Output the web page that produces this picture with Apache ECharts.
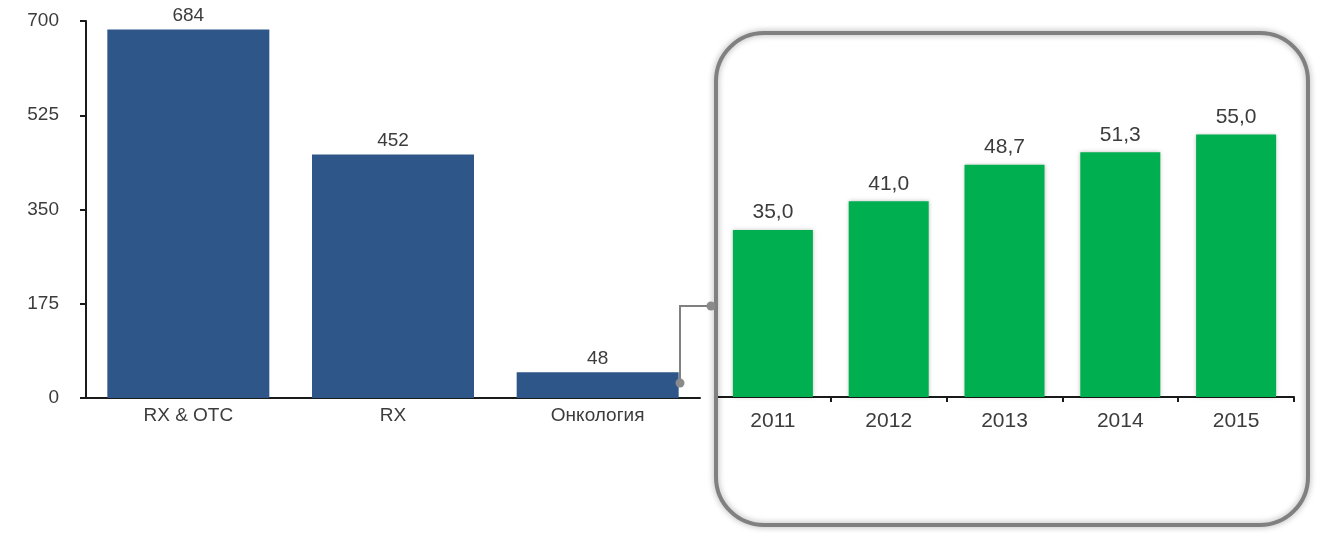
<!DOCTYPE html>
<html><head><meta charset="utf-8">
<script src="https://cdn.jsdelivr.net/npm/echarts@6/dist/echarts.min.js"></script>
<style>html,body{margin:0;padding:0;background:#fff}#c{width:1318px;height:533px}</style>
</head><body><div id="c"></div>
<script>
const leftCategories = ['RX & OTC', 'RX', 'Онкология'];
const leftValues = [684, 452, 48];
const leftTicks = [0, 175, 350, 525, 700];
const rightCategories = ['2011', '2012', '2013', '2014', '2015'];
const rightValues = [35.0, 41.0, 48.7, 51.3, 55.0];

const chart = echarts.init(document.getElementById('c'));
const fmtComma = v => v.toFixed(1).replace('.', ',');
const font = 'Liberation Sans, Arial, sans-serif';
const txt = '#3c3c3c';
chart.setOption({
  animation: false,
  grid: [
    {left: 86, top: 21, width: 614, bottom: 135},
    {left: 715, top: 63, width: 579, bottom: 136}
  ],
  xAxis: [
    {type: 'category', gridIndex: 0, data: leftCategories,
     axisLine: {lineStyle: {color: '#1a1a1a', width: 2}}, axisTick: {show: false},
     axisLabel: {color: txt, fontSize: 19, fontFamily: font, margin: 8}},
    {type: 'category', gridIndex: 1, data: rightCategories,
     axisLine: {lineStyle: {color: '#1a1a1a', width: 2}},
     axisTick: {show: true, inside: false, length: 5, lineStyle: {color: '#1a1a1a', width: 2}},
     axisLabel: {color: txt, fontSize: 21, fontFamily: font, margin: 14}}
  ],
  yAxis: [
    {type: 'value', gridIndex: 0, min: 0, max: 700, interval: 175,
     axisLine: {show: true, lineStyle: {color: '#1a1a1a', width: 2}},
     axisTick: {show: true, length: 6, lineStyle: {color: '#1a1a1a', width: 2}},
     splitLine: {show: false},
     axisLabel: {color: txt, fontSize: 19, fontFamily: font, margin: 27,
       formatter: v => leftTicks.includes(v) ? String(v) : ''}},
    {type: 'value', gridIndex: 1, min: 0, max: 70, show: false, splitLine: {show: false}}
  ],
  series: [
    {type: 'bar', xAxisIndex: 0, yAxisIndex: 0, data: leftValues, barWidth: 162,
     itemStyle: {color: '#2e5688'},
     label: {show: true, position: 'top', color: txt, fontSize: 19, fontFamily: font, distance: 4}},
    {type: 'bar', xAxisIndex: 1, yAxisIndex: 1, data: rightValues, barWidth: 80,
     itemStyle: {color: '#00b050', shadowColor: 'rgba(0,0,0,0.25)', shadowBlur: 4},
     label: {show: true, position: 'top', color: txt, fontSize: 21, fontFamily: font, distance: 7,
       formatter: p => fmtComma(p.value)}}
  ],
  graphic: [
    {type: 'rect', shape: {x: 716, y: 33, width: 592, height: 492, r: 48},
     style: {fill: 'none', stroke: '#808080', lineWidth: 4, shadowColor: 'rgba(0,0,0,0.35)', shadowBlur: 6},
     z: 10},
    {type: 'polyline', shape: {points: [[680, 383], [680, 306], [711, 306]]},
     style: {stroke: '#808080', lineWidth: 2, fill: 'none'}, z: 11},
    {type: 'circle', shape: {cx: 680, cy: 383, r: 4.5}, style: {fill: '#8a8a8a'}, z: 12},
    {type: 'circle', shape: {cx: 711, cy: 306, r: 4.5}, style: {fill: '#8a8a8a'}, z: 12}
  ]
});
</script></body></html>
